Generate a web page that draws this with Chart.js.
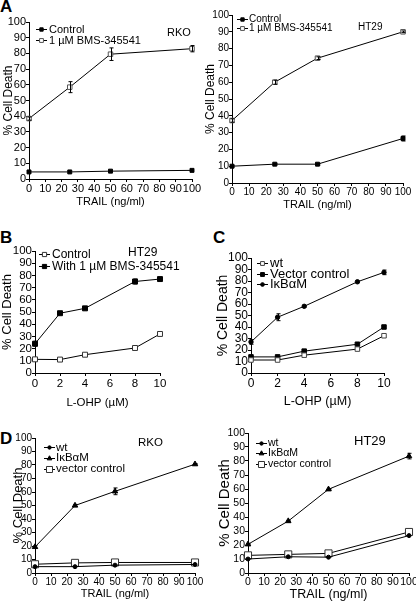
<!DOCTYPE html>
<html>
<head>
<meta charset="utf-8">
<script src="https://cdn.jsdelivr.net/npm/chart.js@4/dist/chart.umd.min.js"></script>
<style>
html,body{margin:0;padding:0;background:#fff;}
body{width:416px;height:605px;overflow:hidden;position:relative;font-family:"Liberation Sans",Arial,sans-serif;}
canvas{position:absolute;}
.pl{position:absolute;font-weight:bold;font-size:17px;line-height:17px;color:#000;}
</style>
</head>
<body>
<div class="pl" style="left:0;top:-2px">A</div>
<div class="pl" style="left:0;top:229px">B</div>
<div class="pl" style="left:213px;top:229px">C</div>
<div class="pl" style="left:0;top:430px">D</div>
<canvas id="cA1" style="left:0;top:0" width="204" height="210"></canvas>
<canvas id="cA2" style="left:200px;top:0" width="215" height="212"></canvas>
<canvas id="cB" style="left:0;top:235px" width="195" height="176"></canvas>
<canvas id="cC" style="left:205px;top:235px" width="191" height="176"></canvas>
<canvas id="cD1" style="left:0;top:420px" width="207" height="181"></canvas>
<canvas id="cD2" style="left:205px;top:420px" width="214" height="183"></canvas>
<script>
// ---------- data ----------
const trailDoses = [0, 25, 50, 100];
const lohpDoses = [0, 2, 4, 8, 10];

// Panel A, RKO
const aRkoControl = [4.5, 4.5, 5, 5.5];
const aRkoBms = [38.5, 58.5, 79.5, 83];
const aRkoBmsErr = [1, 3.5, 4, 2];
// Panel A, HT29
const aHtControl = [10, 11.2, 11.2, 26.5];
const aHtControlErr = [0.5, 0.5, 0.5, 1.5];
const aHtBms = [37.2, 60, 74.3, 90];
const aHtBmsErr = [1, 1.2, 0.8, 0.5];
// Panel B, HT29
const bControl = [11.2, 11, 15, 20.5, 32];
const bBms = [24, 49, 53, 75, 77];
const bBmsErr = [2, 0.8, 0.8, 2, 1];
// Panel C
const cWt = [11.3, 11.3, 15.5, 20.8, 32.4];
const cVector = [14, 14, 19, 25, 40];
const cIkba = [27, 48.5, 58, 79.3, 87.5];
const cIkbaErr = [2, 3, 0.8, 0.8, 2];
// Panel D, RKO
const dRkoWt = [4.7, 4.7, 5.8, 6.3];
const dRkoIkba = [19.3, 50, 60.5, 80.6];
const dRkoIkbaErr = [1, 0.8, 2.5, 0.5];
const dRkoVector = [6.5, 7.5, 7.8, 7.8];
// Panel D, HT29
const dHtWt = [10, 11.6, 11.3, 26.7];
const dHtIkba = [20.5, 37.1, 59.8, 83.5];
const dHtIkbaErr = [0.5, 0.5, 0.5, 2];
const dHtVector = [12.6, 13.3, 14, 29.3];

const xTicksTrail = {max: 100, step: 10, title: 'TRAIL (ng/ml)'};
const xTicksLohp = {max: 10, step: 2, title: 'L-OHP (\u00b5M)'};
const yTitle = '% Cell Death';

// ---------- drawing ----------
const FF = '"Liberation Sans", Arial, sans-serif';

function pts(xs, ys) { return xs.map((x, i) => ({x: x, y: ys[i]})); }

function marker(ctx, st, r, fill, stroke, x, y) {
  ctx.beginPath();
  if (st === 'rect') { const s = Math.SQRT1_2 * r; ctx.rect(x - s, y - s, 2 * s, 2 * s); }
  else if (st === 'circle') { ctx.arc(x, y, r, 0, Math.PI * 2); }
  else if (st === 'triangle') {
    let a = 0;
    ctx.moveTo(x + Math.sin(a) * r, y - Math.cos(a) * r);
    a += Math.PI * 2 / 3; ctx.lineTo(x + Math.sin(a) * r, y - Math.cos(a) * r);
    a += Math.PI * 2 / 3; ctx.lineTo(x + Math.sin(a) * r, y - Math.cos(a) * r);
    ctx.closePath();
  }
  ctx.fillStyle = fill; ctx.fill();
  ctx.strokeStyle = stroke; ctx.lineWidth = 1; ctx.stroke();
}

const overlay = {
  id: 'overlay',
  afterDatasetsDraw(chart, args, o) {
    const ctx = chart.ctx, a = chart.chartArea;
    const xs = chart.scales.x, ys = chart.scales.y;
    ctx.save();
    // error bars
    chart.data.datasets.forEach(ds => {
      if (!ds.errors) return;
      ds.data.forEach((p, j) => {
        const e = ds.errors[j]; if (!e) return;
        const px = Math.round(xs.getPixelForValue(p.x)) + 0.5;
        const y1 = ys.getPixelForValue(p.y + e), y2 = ys.getPixelForValue(p.y - e);
        ctx.strokeStyle = '#000'; ctx.lineWidth = 1;
        ctx.beginPath();
        ctx.moveTo(px, y1); ctx.lineTo(px, y2);
        ctx.moveTo(px - 2, y1); ctx.lineTo(px + 2, y1);
        ctx.moveTo(px - 2, y2); ctx.lineTo(px + 2, y2);
        ctx.stroke();
      });
    });
    // legend
    const L = o.legend;
    ctx.font = L.size + 'px ' + FF;
    ctx.textBaseline = 'middle';
    ctx.textAlign = 'left';
    chart.data.datasets.forEach((ds, i) => {
      const y = a.top + L.dy + i * L.sp;
      const x0 = a.left + L.dx;
      ctx.strokeStyle = '#000'; ctx.lineWidth = 1;
      ctx.beginPath(); ctx.moveTo(x0, Math.round(y) + 0.5); ctx.lineTo(x0 + L.len, Math.round(y) + 0.5); ctx.stroke();
      marker(ctx, ds.pointStyle, ds.pointRadius * 0.85, ds.pointBackgroundColor, ds.pointBorderColor, x0 + L.len / 2, Math.round(y) + 0.5);
      ctx.fillStyle = '#000';
      ctx.fillText(ds.label, x0 + L.len + L.gap, y + 0.5);
    });
    // cell line label
    if (o.cell) {
      ctx.font = o.cell.size + 'px ' + FF;
      ctx.fillStyle = '#000';
      ctx.fillText(o.cell.text, o.cell.x, o.cell.y);
    }
    ctx.restore();
  }
};

function build(id, o) {
  new Chart(document.getElementById(id), {
    type: 'line',
    data: {
      datasets: o.sets.map(s => ({
        label: s.label, data: pts(o.xs, s.ys), errors: s.err,
        borderColor: '#000', borderWidth: 1, tension: 0, fill: false, clip: false,
        pointStyle: s.ps, pointRadius: s.r, pointHoverRadius: s.r,
        pointBackgroundColor: s.fill, pointBorderColor: s.stroke, pointBorderWidth: 1
      }))
    },
    options: {
      responsive: false, animation: false, devicePixelRatio: 1,
      events: [],
      layout: {padding: {left: 0, top: o.pt, right: o.pr, bottom: 0}},
      plugins: {
        legend: {display: false}, tooltip: {enabled: false},
        overlay: {legend: o.legend, cell: o.cell}
      },
      scales: {
        x: {
          type: 'linear', min: 0, max: o.xa.max,
          ticks: {stepSize: o.xa.step, autoSkip: false, maxRotation: 0, color: '#000',
                  padding: o.xtp, font: {family: FF, size: o.tick}},
          grid: {drawOnChartArea: false, drawTicks: true, tickLength: 3, color: '#000'},
          border: {display: true, color: '#000', width: 1},
          title: {display: true, text: o.xa.title, color: '#000',
                  font: {family: FF, size: o.xt}, padding: {top: 0, bottom: o.xtpad}},
          afterFit(s) { s.height = o.H; }
        },
        y: {
          type: 'linear', min: 0, max: 100,
          ticks: {stepSize: 10, autoSkip: false, color: '#000', padding: 0,
                  font: {family: FF, size: o.ytick || o.tick}},
          grid: {drawOnChartArea: false, drawTicks: true, tickLength: 3, color: '#000'},
          border: {display: true, color: '#000', width: 1},
          title: {display: true, text: yTitle, color: '#000',
                  font: {family: FF, size: o.yt}, padding: {top: o.ytpad, bottom: 0}},
          afterFit(s) { s.width = o.W; }
        }
      }
    },
    plugins: [overlay]
  });
}

const BLK = '#000', WHT = '#fff';

// A - RKO
build('cA1', {
  xs: trailDoses, xa: xTicksTrail,
  pt: 22, pr: 12, W: 29, H: 31, tick: 11, xtp: 0, xt: 11, xtpad: 1.4, yt: 12, ytpad: 1,
  legend: {dx: 7, dy: 7, sp: 11, len: 11, gap: 2, size: 11},
  cell: {text: 'RKO', x: 167, y: 33, size: 11},
  sets: [
    {label: 'Control', ys: aRkoControl, ps: 'rect', r: 2.8, fill: BLK, stroke: BLK},
    {label: '1 \u00b5M BMS-345541', ys: aRkoBms, err: aRkoBmsErr, ps: 'rect', r: 3.2, fill: WHT, stroke: '#555'}
  ]
});
// A - HT29
build('cA2', {
  xs: trailDoses, xa: xTicksTrail,
  pt: 15, pr: 12, W: 32, H: 29, tick: 10, xtp: 0, xt: 11, xtpad: 0.4, yt: 12, ytpad: 3,
  legend: {dx: 5, dy: 4, sp: 9, len: 11, gap: 1, size: 10},
  cell: {text: 'HT29', x: 158, y: 27, size: 10},
  sets: [
    {label: 'Control', ys: aHtControl, err: aHtControlErr, ps: 'rect', r: 2.8, fill: BLK, stroke: BLK},
    {label: '1 \u00b5M BMS-345541', ys: aHtBms, err: aHtBmsErr, ps: 'rect', r: 3.2, fill: WHT, stroke: '#555'}
  ]
});
// B
build('cB', {
  xs: lohpDoses, xa: xTicksLohp,
  pt: 16, pr: 35, W: 35, H: 38, tick: 11.5, xtp: 1, xt: 11.5, xtpad: 1, yt: 13, ytpad: 0,
  legend: {dx: 4, dy: 3, sp: 11.7, len: 11, gap: 2, size: 12},
  cell: {text: 'HT29', x: 128, y: 18, size: 12},
  sets: [
    {label: 'Control', ys: bControl, ps: 'rect', r: 3.5, fill: WHT, stroke: '#333'},
    {label: 'With 1 \u00b5M BMS-345541', ys: bBms, err: bBmsErr, ps: 'rect', r: 3.5, fill: BLK, stroke: BLK}
  ]
});
// C
build('cC', {
  xs: lohpDoses, xa: xTicksLohp,
  pt: 23, pr: 12, W: 46, H: 38, tick: 12, xtp: 0, xt: 12.5, xtpad: 1.5, yt: 14, ytpad: 9.6,
  legend: {dx: 6, dy: 5, sp: 10.5, len: 11, gap: 2, size: 13},
  sets: [
    {label: 'wt', ys: cWt, ps: 'rect', r: 3.2, fill: WHT, stroke: '#444'},
    {label: 'Vector control', ys: cVector, ps: 'rect', r: 3.2, fill: BLK, stroke: BLK},
    {label: 'I\u03baB\u03b1M', ys: cIkba, err: cIkbaErr, ps: 'circle', r: 2.2, fill: BLK, stroke: BLK}
  ]
});
// D - RKO
build('cD1', {
  xs: trailDoses, xa: xTicksTrail,
  pt: 18, pr: 12, W: 35, H: 28, tick: 10, xtp: 0, xt: 11, xtpad: 0.4, yt: 13, ytpad: 10.7,
  legend: {dx: 9, dy: 9, sp: 10.8, len: 11, gap: 1, size: 11.5},
  cell: {text: 'RKO', x: 138, y: 23, size: 11.5},
  sets: [
    {label: 'wt', ys: dRkoWt, ps: 'circle', r: 2, fill: BLK, stroke: BLK},
    {label: 'I\u03baB\u03b1M', ys: dRkoIkba, err: dRkoIkbaErr, ps: 'triangle', r: 3.2, fill: BLK, stroke: BLK},
    {label: 'vector control', ys: dRkoVector, ps: 'rect', r: 5, fill: WHT, stroke: '#333'}
  ]
});
// D - HT29
build('cD2', {
  xs: trailDoses, xa: xTicksTrail,
  pt: 13, pr: 10, W: 43, H: 30, tick: 10.5, xtp: 0, xt: 12.5, xtpad: 0.5, yt: 15, ytpad: 10.5,
  legend: {dx: 8, dy: 9.5, sp: 10.5, len: 11, gap: 1, size: 10.5},
  cell: {text: 'HT29', x: 149, y: 21, size: 13},
  sets: [
    {label: 'wt', ys: dHtWt, ps: 'circle', r: 2, fill: BLK, stroke: BLK},
    {label: 'I\u03baB\u03b1M', ys: dHtIkba, err: dHtIkbaErr, ps: 'triangle', r: 3.2, fill: BLK, stroke: BLK},
    {label: 'vector control', ys: dHtVector, ps: 'rect', r: 5, fill: WHT, stroke: '#333'}
  ]
});
</script>
</body>
</html>
